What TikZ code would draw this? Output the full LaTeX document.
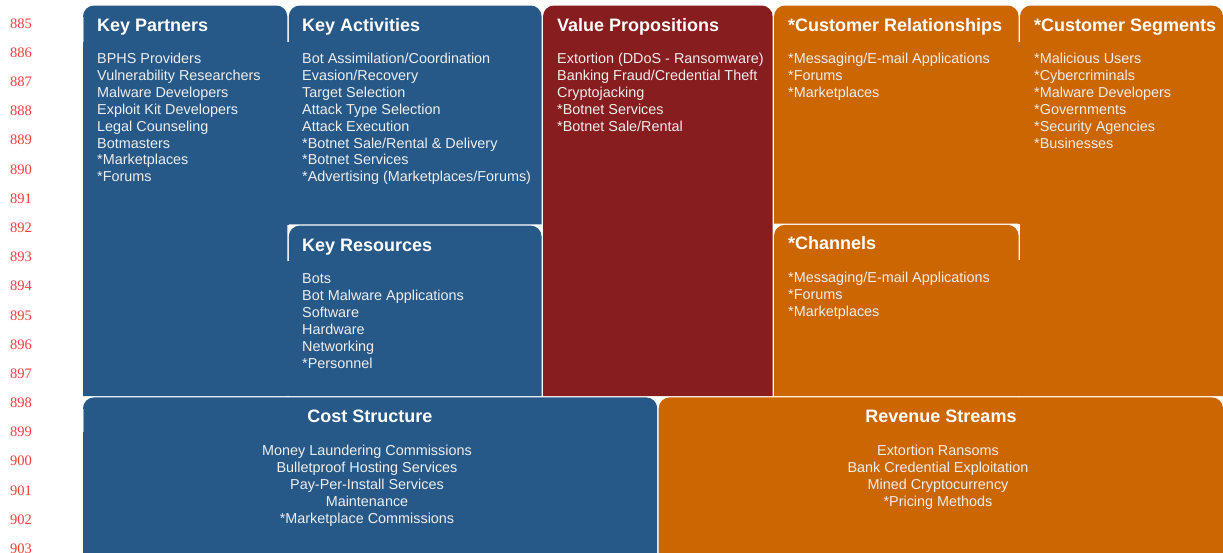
\documentclass[tikz,border=0pt]{standalone}
\usepackage{fontspec}
\setmainfont{Liberation Sans}
\newfontfamily\numfont{Liberation Serif}
\definecolor{bmcblue}{RGB}{39,89,136}
\definecolor{bmcred}{RGB}{136,29,31}
\definecolor{bmcorange}{RGB}{204,102,0}
\definecolor{bodytext}{RGB}{238,238,238}
\definecolor{numred}{RGB}{245,60,60}
% #1 colour, #2 x1, #3 y1 (top), #4 x2, #5 y2 (bottom); y grows downwards
\newcommand\bmcbox[5]{%
  \fill[#1] (#2,#5) -- (#2,#3+11) arc[start angle=180,end angle=90,radius=11pt]
    -- (#4-11,#3) arc[start angle=90,end angle=0,radius=11pt] -- (#4,#5) -- cycle;}
\begin{document}
\begin{tikzpicture}[x=1pt,y=-1pt,
  boxtitle/.style={anchor=base west,inner sep=0pt,text=white,font=\bfseries\fontsize{18}{21}\selectfont},
  boxtitlec/.style={boxtitle,anchor=base},
  boxbody/.style={anchor=north west,inner sep=0pt,align=left,text=bodytext,font=\fontsize{14.4}{16.9}\selectfont},
  boxbodyc/.style={boxbody,anchor=north,align=center},
  linenum/.style={anchor=base west,inner sep=0pt,text=numred,font=\numfont\fontsize{14.5}{16}\selectfont},
  hdredge/.style={white,opacity=0.5,line width=0.8pt}]
\useasboundingbox (0,0) rectangle (1223,552);

% ---- boxes ----
\bmcbox{bmcblue}{83}{5.5}{287.3}{396}
\bmcbox{bmcblue}{288.8}{5.5}{541.6}{224.4}
\bmcbox{bmcblue}{288.8}{225.6}{541.6}{396}
\bmcbox{bmcred}{543}{5.5}{772.6}{396}
\bmcbox{bmcorange}{774}{5.5}{1018.6}{223.6}
\bmcbox{bmcorange}{774}{224.8}{1018.6}{396}
\bmcbox{bmcorange}{1020}{5.5}{1223}{396}
\bmcbox{bmcblue}{83}{397.4}{657.2}{560}
\bmcbox{bmcorange}{658.7}{397.4}{1223}{560}

% ---- joins below the header bands ----
\fill[bmcblue] (287,42) rectangle (289.1,224.6);
\fill[bmcblue] (287,261) rectangle (289.1,396);
\fill[bmcorange] (1018.3,42) rectangle (1020.3,223.8);
\fill[bmcorange] (1018.3,260) rectangle (1020.3,396);

% ---- faint header edges ----
\draw[hdredge] (83.4,17) -- (83.4,42);
\draw[hdredge] (83.4,409) -- (83.4,432);

% ---- titles ----
\node[boxtitle] (kpt) at (97,31.8) {Key Partners};
\node[boxtitle] (kat) at (302,31.8) {Key Activities};
\node[boxtitle] (krt) at (302,251) {Key Resources};
\node[boxtitle] (vpt) at (557,31.8) {Value Propositions};
\node[boxtitle] (crt) at (788,31.8) {*Customer Relationships};
\node[boxtitle] (cht) at (788,249.3) {*Channels};
\node[boxtitle] (cst) at (1034,31.8) {*Customer Segments};
\node[boxtitlec] (cost) at (370,422.6) {Cost Structure};
\node[boxtitlec] (revt) at (941,422.6) {Revenue Streams};

% ---- bodies ----
\node[boxbody] (kpb) at (97,51.5) {\strut BPHS Providers\\Vulnerability Researchers\\Malware Developers\\Exploit Kit Developers\\Legal Counseling\\Botmasters\\*Marketplaces\\*Forums};
\node[boxbody] (kab) at (302,51.5) {\strut Bot Assimilation/Coordination\\Evasion/Recovery\\Target Selection\\Attack Type Selection\\Attack Execution\\*Botnet Sale/Rental \& Delivery\\*Botnet Services\\*Advertising (Marketplaces/Forums)};
\node[boxbody] (krb) at (302,271.5) {\strut Bots\\Bot Malware Applications\\Software\\Hardware\\Networking\\*Personnel};
\node[boxbody] (vpb) at (557,51.5) {\strut Extortion (DDoS - Ransomware)\\Banking Fraud/Credential Theft\\Cryptojacking\\*Botnet Services\\*Botnet Sale/Rental};
\node[boxbody] (crb) at (788,51.5) {\strut *Messaging/E-mail Applications\\*Forums\\*Marketplaces};
\node[boxbody] (chb) at (788,270.7) {\strut *Messaging/E-mail Applications\\*Forums\\*Marketplaces};
\node[boxbody] (csb) at (1034,51.5) {\strut *Malicious Users\\*Cybercriminals\\*Malware Developers\\*Governments\\*Security Agencies\\*Businesses};
\node[boxbodyc] (cosb) at (367,443.5) {\strut Money Laundering Commissions\\Bulletproof Hosting Services\\Pay-Per-Install Services\\Maintenance\\*Marketplace Commissions};
\node[boxbodyc] (revb) at (938,443.5) {\strut Extortion Ransoms\\Bank Credential Exploitation\\Mined Cryptocurrency\\*Pricing Methods};

% ---- line numbers (the last one is cut by the lower edge, as in the source) ----
\foreach \n in {0,...,18}{
  \node[linenum] (ln\n) at (10,28.3+29.17*\n) {\the\numexpr885+\n\relax};
}
\end{tikzpicture}
\end{document}
